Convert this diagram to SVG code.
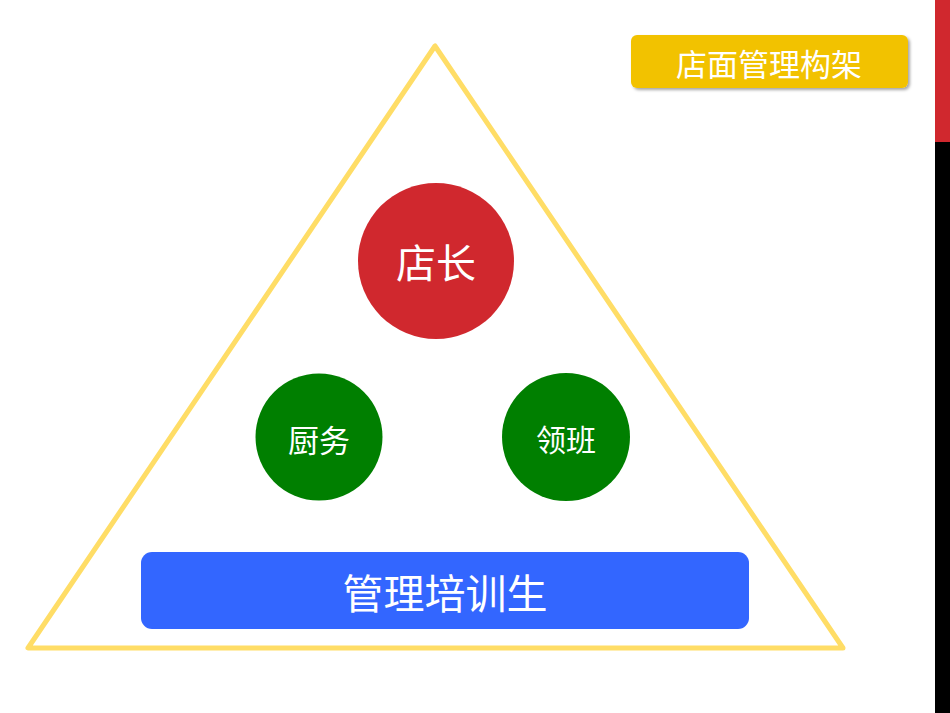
<svg xmlns="http://www.w3.org/2000/svg" width="950" height="713" viewBox="0 0 950 713">
<defs>
<style>
text{font-family:"Noto Sans CJK SC","Noto Sans",sans-serif;fill:#fff;text-anchor:middle}
</style>
<filter id="sh" x="-10%" y="-20%" width="120%" height="160%"><feDropShadow dx="2" dy="2" stdDeviation="1.5" flood-color="#000" flood-opacity="0.35"/></filter>
</defs>
<rect width="950" height="713" fill="#fff"/>
<g id="sidebar">
<rect x="935" y="0" width="15" height="142" fill="#D0282E"/>
<rect x="935" y="142" width="15" height="571" fill="#000"/>
</g>
<g id="triangle">
<polygon points="435,46 28,648 843,648" fill="none" stroke="#FFDD66" stroke-width="5" stroke-linejoin="round"/>
</g>
<g id="title">
<rect x="631" y="35" width="277" height="53" rx="6" fill="#F2C200" filter="url(#sh)"/>
<text x="769" y="76" font-size="31">店面管理构架</text>
</g>
<g id="manager">
<circle cx="436" cy="261" r="78" fill="#D0282E"/>
<text x="436" y="278" font-size="40">店长</text>
</g>
<g id="kitchen">
<circle cx="319" cy="437" r="63.5" fill="#007F00"/>
<text x="319" y="452" font-size="31">厨务</text>
</g>
<g id="leader">
<circle cx="566" cy="437" r="64" fill="#007F00"/>
<text x="566" y="451" font-size="30">领班</text>
</g>
<g id="trainee">
<rect x="141" y="552" width="608" height="77" rx="11" fill="#3366FF"/>
<text x="445" y="609" font-size="41">管理培训生</text>
</g>
</svg>
